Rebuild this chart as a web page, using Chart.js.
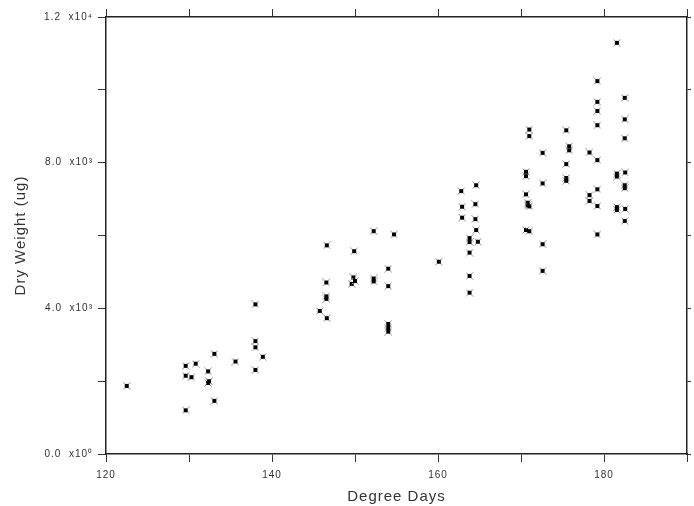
<!DOCTYPE html>
<html lang="en">
<head>
  <meta charset="UTF-8" />
  <title>Dry Weight vs Degree Days</title>
  <script src="https://cdn.jsdelivr.net/npm/chart.js"></script>
<style>
  * { margin: 0; padding: 0; box-sizing: border-box; }
  body { background: #ffffff; width: 694px; height: 506px; overflow: hidden; }
  canvas { display: block; }
</style>
</head>
<body>
  <canvas id="scatterChart" width="694" height="506"></canvas>

  <script>
  // Data
  const degreeDays = [
    122.5, 129.6, 129.6, 130.3, 129.6, 130.8, 132.3, 132.3, 132.4, 133.05, 133.05, 135.6,
    138.0, 138.0, 138.0, 138.9, 138.0,
    146.6, 146.55, 146.55, 146.55, 145.75, 146.6,
    149.9, 149.8, 149.6, 150.0,
    152.25, 152.25, 152.25,
    154.7, 154.0, 154.0, 154.0, 154.0, 154.0,
    160.1,
    162.8, 162.9, 162.9, 163.8, 163.8, 163.8, 163.8, 163.8,
    164.6, 164.5, 164.5, 164.6, 164.8,
    171.0, 171.0, 170.6, 170.6, 170.6, 170.8, 170.8, 171.0, 170.6, 171.0,
    172.6, 172.6, 172.6, 172.6,
    175.45, 175.8, 175.8, 175.45, 175.45, 175.45,
    178.25, 179.2, 179.2, 179.2, 179.2, 179.2, 178.25, 178.25, 179.2, 179.2, 179.2,
    181.55, 181.55, 181.55, 181.55, 181.55,
    182.55, 182.5, 182.5, 182.55, 182.5, 182.5, 182.5, 182.5
  ];
  const dryWeight = [
    1870, 2420, 2150, 2110, 1200, 2480, 2270, 1950, 2000, 2750, 1460, 2540,
    4110, 3100, 2930, 2670, 2310,
    5730, 4710, 4330, 4260, 3930, 3730,
    5570, 4850, 4670, 4750,
    6120, 4820, 4740,
    6030, 5090, 4610, 3570, 3360, 3460,
    5280,
    7220, 6790, 6490, 5930, 5820, 5530, 4890, 4430,
    7380, 6860, 6450, 6150, 5830,
    8910, 8730, 7750, 7630, 7130, 6900, 6830, 6800, 6150, 6120,
    8270, 7430, 5760, 5030,
    8890, 8450, 8340, 7960, 7580, 7500,
    8280, 8070, 10240, 9670, 9420, 9030, 7110, 6950, 7270, 6810, 6030,
    11290, 7700, 7620, 6780, 6700,
    7730, 7380, 7300, 6730, 6400, 9780, 9190, 8670
  ];

  // Tick labels
  const xTickLabels = { 120: '120', 140: '140', 160: '160', 180: '180' };
  const yTickLabels = { 0: '0.0  x10\u2070', 4000: '4.0  x10\u00B3', 8000: '8.0  x10\u00B3', 12000: '1.2  x10\u2074' };

  const points = degreeDays.map((d, i) => ({ x: d, y: dryWeight[i] }));

  // small square with an x through it
  const marker = document.createElement('canvas');
  marker.width = 8; marker.height = 8;
  const mctx = marker.getContext('2d');
  mctx.strokeStyle = '#888';
  mctx.lineWidth = 1;
  mctx.beginPath();
  mctx.moveTo(0.5, 0.5); mctx.lineTo(7.5, 7.5);
  mctx.moveTo(7.5, 0.5); mctx.lineTo(0.5, 7.5);
  mctx.stroke();
  mctx.fillStyle = '#000';
  mctx.fillRect(2, 2, 4, 4);

  // the old plotter font is spaced out a bit
  const spacedText = {
    id: 'spacedText',
    beforeDraw(chart) { chart.ctx.letterSpacing = '1px'; }
  };

  const tickFont = { family: 'Liberation Sans, Arial, sans-serif', size: 10 };
  const titleFont = { family: 'Liberation Sans, Arial, sans-serif', size: 15 };
  const axisBorder = { display: true, color: '#222', width: 1.5 };

  new Chart(document.getElementById('scatterChart'), {
    type: 'scatter',
    data: {
      datasets: [{
        data: points,
        pointStyle: marker,
        pointRadius: 4,
        pointHoverRadius: 4
      }]
    },
    options: {
      responsive: false,
      animation: false,
      layout: { padding: 0 },
      plugins: {
        legend: { display: false },
        tooltip: { enabled: false }
      },
      scales: {
        x: {
          type: 'linear',
          position: 'bottom',
          min: 120,
          max: 190,
          border: axisBorder,
          grid: { drawOnChartArea: false, tickLength: 8, color: '#333' },
          ticks: {
            stepSize: 10,
            color: '#333',
            font: tickFont,
            padding: 7,
            maxRotation: 0,
            autoSkip: false,
            callback: v => xTickLabels[v] || ''
          },
          title: { display: true, text: 'Degree Days', color: '#333', font: titleFont, padding: 0 },
          afterFit: s => { s.height = 52; }
        },
        x2: {
          type: 'linear',
          position: 'top',
          min: 120,
          max: 190,
          border: axisBorder,
          grid: { drawOnChartArea: false, tickLength: 8, color: '#333' },
          ticks: { stepSize: 10, autoSkip: false, callback: () => '' },
          afterFit: s => { s.height = 17; }
        },
        y: {
          type: 'linear',
          position: 'left',
          min: 0,
          max: 12000,
          border: axisBorder,
          grid: { drawOnChartArea: false, tickLength: 8, color: '#333' },
          ticks: {
            stepSize: 2000,
            color: '#333',
            font: tickFont,
            padding: 5,
            autoSkip: false,
            callback: v => yTickLabels[v] || ''
          },
          title: { display: true, text: 'Dry Weight (ug)', color: '#333', font: titleFont, padding: { top: 12, bottom: 0 } },
          afterFit: s => { s.width = 106; }
        },
        y2: {
          type: 'linear',
          position: 'right',
          min: 0,
          max: 12000,
          border: axisBorder,
          grid: { drawOnChartArea: false, tickLength: 4, color: '#333' },
          ticks: { stepSize: 2000, autoSkip: false, callback: () => '' },
          afterFit: s => { s.width = 4; }
        }
      }
    },
    plugins: [spacedText]
  });
</script>
</body>
</html>
